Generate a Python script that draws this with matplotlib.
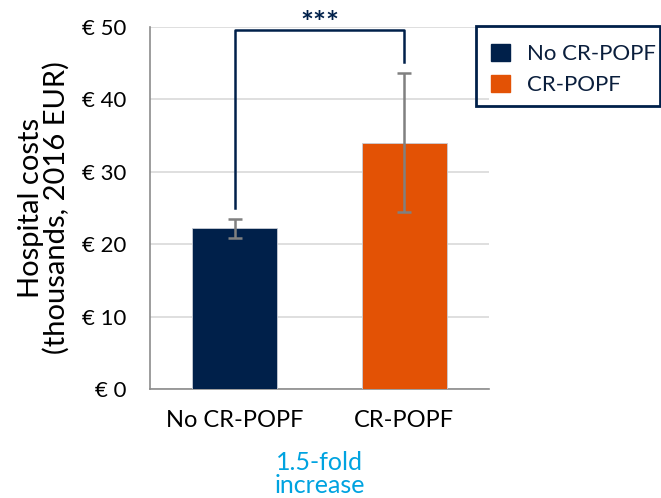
import matplotlib.pyplot as plt
from matplotlib.patches import Rectangle

plt.rcParams['font.family'] = ['Lato', 'DejaVu Sans']

groups = ['No CR-POPF', 'CR-POPF']
costs = [22.2, 34.0]
err_low = [1.3, 9.5]
err_high = [1.3, 9.6]
colors = ['#00204A', '#E35205']
yticks = [0, 10, 20, 30, 40, 50]

navy = '#00204A'
W, H = 661, 498
fig = plt.figure(figsize=(W / 100, H / 100), dpi=100)
ax = fig.add_axes([150 / W, 1 - 389 / H, 339 / W, 362 / H])

x = [0, 1]
bars = ax.bar(x, costs, width=0.5, color=colors, edgecolor='#C8CDD6', linewidth=0.6,
              zorder=3)
ax.errorbar(x, costs, yerr=[err_low, err_high], fmt='none', ecolor='#808080',
            elinewidth=1.8, capsize=5, capthick=1.8, zorder=4)

ax.set_xlim(-0.5, 1.5)
ax.set_ylim(0, 50)
ax.set_yticks(yticks)
ax.set_yticklabels(['€ %d' % t for t in yticks], fontsize=16)
ax.set_xticks(x)
ax.set_xticklabels(groups, fontsize=17)
ax.tick_params(axis='y', length=0, pad=17)
ax.tick_params(axis='x', length=0, pad=15)
ax.grid(axis='y', color='#D9D9D9', linewidth=1.2, zorder=0)
for s in ['top', 'right']:
    ax.spines[s].set_visible(False)
for s in ['left', 'bottom']:
    ax.spines[s].set_color('#8C8C8C')
    ax.spines[s].set_linewidth(1.2)

ax.set_ylabel('Hospital costs\n(thousands, 2016 EUR)', fontsize=21, linespacing=0.95)
ax.yaxis.set_label_coords(-(150 - 70) / 339, 0.5)

# significance bracket
ax.plot([0, 0, 1, 1], [25.0, 49.6, 49.6, 45.1], color=navy, linewidth=1.8,
        clip_on=False, zorder=5)
ax.text(0.5, 50.4, '***', ha='center', va='center', fontsize=22, fontweight='bold',
        color=navy)

ax.text(0.5, -8.6, '1.5-fold\nincrease', ha='center', va='top', fontsize=18,
        color='#00A3E0', linespacing=1.0)

# legend: frameless, with its own box drawn in figure pixels
handles = [plt.Rectangle((0, 0), 1, 1, color=c) for c in colors]
leg = fig.legend(handles, groups, loc='upper left', bbox_to_anchor=(491 / W, 1 - 44 / H),
                 fontsize=16, frameon=False, handlelength=0.86, handleheight=0.82,
                 borderpad=0, labelspacing=0.47, handletextpad=0.77, borderaxespad=0)
for t in leg.get_texts():
    t.set_color('#0A1E3C')
fig.patches.append(Rectangle((476 / W, 1 - 106 / H), 184 / W, 80 / H, transform=fig.transFigure,
                             fill=False, edgecolor=navy, linewidth=2))

fig.savefig('out.png', dpi=100)
